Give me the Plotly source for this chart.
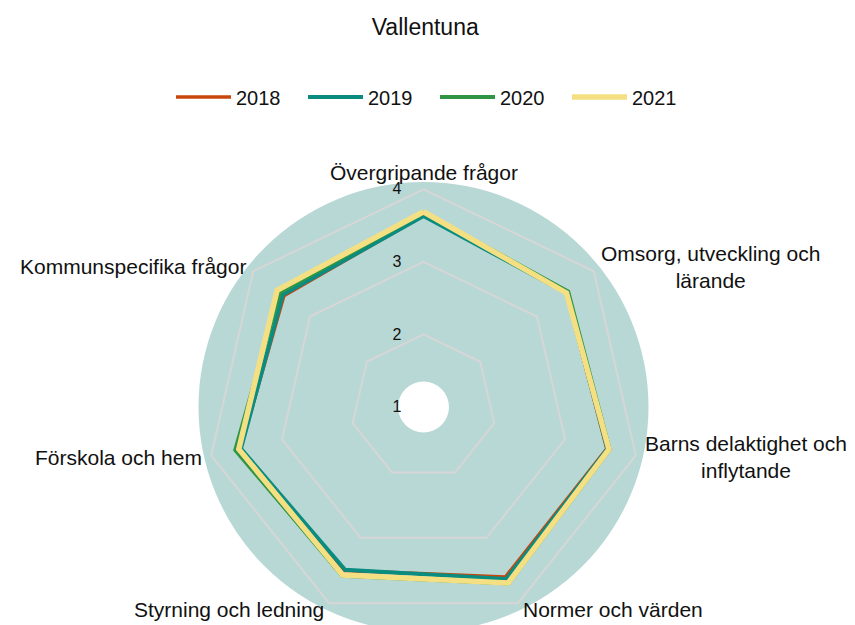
import math
import plotly.graph_objects as go

categories = ["Övergripande frågor", "Omsorg, utveckling och<br>lärande",
              "Barns delaktighet och<br>inflytande", "Normer och värden",
              "Styrning och ledning", "Förskola och hem", "Kommunspecifika frågor"]
years = ["2018", "2019", "2020", "2021"]
v2018 = [3.64, 3.52, 3.59, 3.60, 3.50, 3.59, 3.46]
v2019 = [3.63, 3.52, 3.60, 3.63, 3.49, 3.58, 3.48]
v2020 = [3.68, 3.55, 3.63, 3.70, 3.58, 3.66, 3.53]
v2021 = [3.69, 3.52, 3.62, 3.69, 3.57, 3.61, 3.58]
radial_ticks = [1, 2, 3, 4]

series = [v2018, v2019, v2020, v2021]
colors = ["#c8460e", "#0b8c80", "#2f9544", "#f4df82"]
widths = [3.5, 4, 4, 5.5]

fig = go.Figure()
for name, vals, c, w in zip(years, series, colors, widths):
    fig.add_trace(go.Scatterpolar(
        r=vals + vals[:1], theta=categories + categories[:1],
        mode="lines", name=name, line=dict(color=c, width=w),
    ))

FONT = "Liberation Sans, Arial, sans-serif"

BG_R = 225  # polar radius in px (domain height 450)
annotations = []
n = len(categories)
for i, lab in enumerate(categories):
    ang = math.radians(90 - i * 360 / n)
    c, s = math.cos(ang), math.sin(ang)
    if c > 0.15:
        xa = "left"
    elif c < -0.15:
        xa = "right"
    else:
        xa = "center"
    ya = "bottom" if s > 0.9 else "middle"
    rr = BG_R
    annotations.append(dict(
        text=lab, xref="paper", yref="paper", x=0.5, y=0.5,
        xshift=rr * c, yshift=rr * s + (-4 if ya == "bottom" else 0),
        xanchor=xa, yanchor=ya, align="center", showarrow=False,
        font=dict(size=21, family=FONT, color="#111"),
    ))

fig.update_layout(
    width=855, height=625,
    margin=dict(l=0, r=24, t=174, b=1),
    paper_bgcolor="white",
    font=dict(family=FONT, size=20, color="#111"),
    title=dict(text="Vallentuna", x=0.488, xanchor="center", y=1 - 19 / 625,
               yanchor="middle", font=dict(size=23, family=FONT, color="#111")),
    legend=dict(orientation="h", x=163 / 831, xanchor="left", yref="container",
                y=1 - 89 / 625, yanchor="middle", font=dict(size=20),
                entrywidth=62, itemwidth=55),
    polar=dict(
        bgcolor="rgba(0,0,0,0)",
        gridshape="linear",
        radialaxis=dict(range=[1, 4.1], tickvals=radial_ticks, angle=90,
                        side="counterclockwise", showline=False, tickangle=90,
                        gridcolor="#d6d6d6", gridwidth=1.5,
                        tickfont=dict(size=16), ticks="outside", ticklen=16,
                        tickcolor="rgba(0,0,0,0)"),
        angularaxis=dict(direction="clockwise", rotation=90, showgrid=False,
                         showline=False, showticklabels=False, ticks=""),
    ),
    annotations=annotations,
    shapes=[
        dict(type="circle", layer="below", xref="paper", yref="paper",
             xsizemode="pixel", ysizemode="pixel", xanchor=0.5, yanchor=0.5,
             x0=-BG_R, x1=BG_R, y0=-BG_R, y1=BG_R,
             fillcolor="#b8d8d5", line=dict(width=0)),
        dict(type="circle", layer="below", xref="paper", yref="paper",
             xsizemode="pixel", ysizemode="pixel", xanchor=0.5, yanchor=0.5,
             x0=-25.5, x1=25.5, y0=-25.5, y1=25.5,
             fillcolor="white", line=dict(width=0)),
    ],
)

fig.write_html("out.html")
